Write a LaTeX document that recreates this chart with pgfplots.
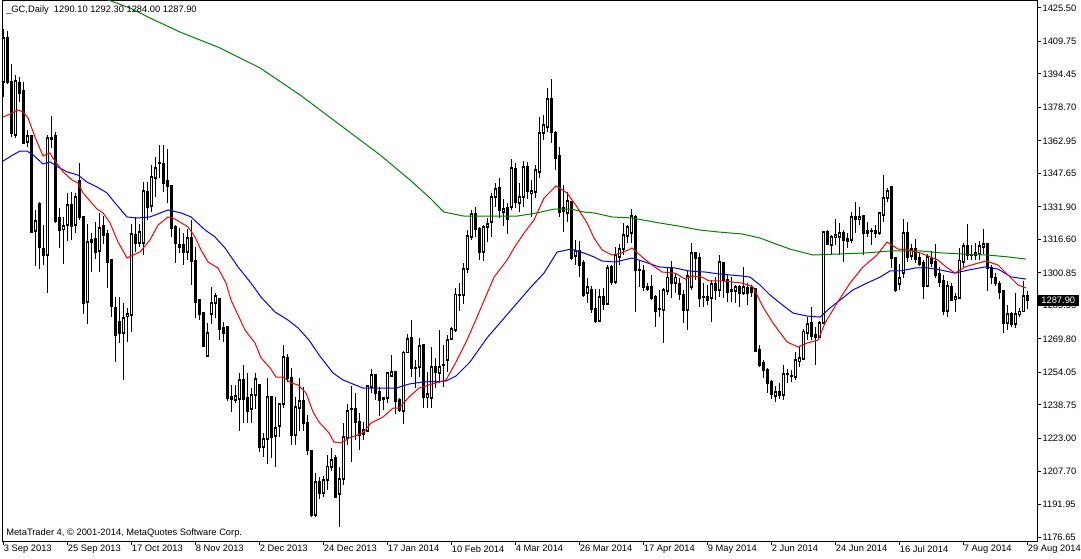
\documentclass[border=0pt]{standalone}
\usepackage{pgfplots}
\pgfplotsset{compat=1.18}
\usepackage{pgfplotstable}
\usepackage{fontspec}
\setmainfont{Liberation Sans}
\newcommand\mtfont{\fontsize{7pt}{8pt}\selectfont}
\pgfplotstableread{
i o h l c
0 1390.7 1415.6 1383.6 1411.4
1 1411.4 1414.7 1389.7 1390.7
2 1390.7 1399.2 1364.8 1366.7
3 1365.8 1394.0 1364.3 1391.2
4 1390.2 1393.0 1381.3 1385.5
5 1386.5 1390.7 1362.0 1362.0
6 1362.5 1368.1 1360.1 1365.3
7 1365.3 1365.8 1319.6 1320.1
8 1320.6 1330.5 1304.1 1325.3
9 1333.3 1334.2 1302.7 1313.1
10 1312.1 1323.4 1304.6 1309.3
11 1309.3 1365.8 1291.4 1364.3
12 1364.3 1374.7 1359.6 1363.9
13 1365.3 1367.2 1324.4 1325.3
14 1326.7 1331.4 1312.6 1321.1
15 1321.5 1327.2 1305.1 1322.9
16 1323.4 1338.5 1315.9 1332.8
17 1332.8 1339.0 1316.4 1322.9
18 1323.4 1338.5 1319.6 1336.6
19 1344.1 1352.6 1325.8 1327.2
20 1327.2 1327.6 1281.5 1286.7
21 1287.2 1323.9 1276.8 1315.4
22 1316.4 1319.6 1301.3 1315.4
23 1316.8 1324.8 1307.4 1310.7
24 1311.2 1329.0 1301.3 1322.0
25 1322.9 1327.6 1314.5 1318.7
26 1319.6 1321.1 1293.8 1306.0
27 1306.9 1307.4 1280.1 1285.3
28 1284.4 1289.5 1259.0 1271.7
29 1277.8 1289.5 1267.9 1272.6
30 1272.6 1286.7 1250.5 1279.7
31 1280.6 1284.4 1268.4 1281.5
32 1281.1 1323.9 1273.1 1319.2
33 1318.7 1327.2 1310.7 1314.9
34 1314.9 1323.9 1313.1 1320.1
35 1314.9 1343.6 1309.3 1339.4
36 1339.0 1343.6 1325.8 1331.9
37 1332.4 1351.6 1329.5 1346.0
38 1345.5 1355.4 1336.6 1350.2
39 1352.4 1361.0 1345.5 1352.8
40 1352.1 1361.0 1339.0 1343.2
41 1344.1 1359.2 1333.8 1341.8
42 1341.8 1342.2 1317.8 1322.0
43 1322.5 1323.4 1305.5 1314.9
44 1314.0 1322.0 1310.3 1313.1
45 1314.0 1319.6 1304.6 1310.7
46 1310.7 1321.5 1306.9 1317.3
47 1317.3 1325.8 1295.2 1306.5
48 1306.9 1313.1 1279.7 1287.2
49 1288.1 1288.6 1278.7 1281.5
50 1282.0 1282.5 1266.0 1266.5
51 1261.8 1277.3 1261.3 1272.6
52 1281.5 1294.3 1276.8 1286.7
53 1286.7 1291.4 1279.7 1290.0
54 1288.6 1289.1 1269.3 1274.5
55 1275.0 1277.8 1268.4 1272.6
56 1275.4 1275.9 1240.6 1242.0
57 1242.5 1248.2 1235.5 1241.6
58 1241.1 1248.2 1239.7 1243.0
59 1241.6 1253.8 1226.5 1250.5
60 1250.5 1257.6 1230.3 1241.6
61 1242.0 1253.8 1230.3 1235.9
62 1236.9 1246.7 1230.3 1243.5
63 1243.5 1253.8 1236.9 1251.0
64 1248.2 1248.6 1216.6 1219.0
65 1219.0 1225.6 1214.3 1222.8
66 1222.8 1251.4 1211.0 1242.5
67 1242.5 1243.0 1213.8 1223.7
68 1224.2 1242.5 1209.6 1227.9
69 1228.9 1239.7 1223.7 1239.2
70 1239.2 1267.0 1237.3 1261.3
71 1260.9 1262.7 1249.6 1251.4
72 1251.4 1256.2 1219.9 1224.6
73 1224.6 1242.5 1219.9 1237.8
74 1237.3 1251.4 1226.5 1240.6
75 1240.6 1247.2 1226.5 1230.3
76 1230.3 1234.0 1215.2 1217.6
77 1217.1 1217.6 1186.1 1187.0
78 1187.0 1206.8 1186.1 1202.5
79 1202.5 1204.9 1194.5 1197.4
80 1197.4 1205.4 1195.5 1203.5
81 1203.5 1215.2 1198.8 1210.0
82 1209.6 1218.5 1207.7 1212.9
83 1213.8 1215.2 1195.0 1195.5
84 1196.9 1209.6 1181.4 1203.9
85 1203.9 1230.3 1201.1 1223.7
86 1223.2 1239.2 1219.9 1235.9
87 1236.9 1247.7 1212.0 1236.7
88 1236.9 1244.4 1222.3 1230.7
89 1230.7 1235.0 1217.6 1224.6
90 1225.1 1230.7 1222.3 1227.0
91 1226.5 1248.2 1226.0 1247.7
92 1247.2 1255.7 1244.4 1252.8
93 1252.8 1253.3 1241.1 1244.4
94 1244.9 1247.2 1233.6 1241.1
95 1242.0 1242.5 1236.4 1241.6
96 1242.0 1254.3 1239.7 1253.8
97 1252.4 1262.3 1251.9 1254.3
98 1254.3 1254.8 1234.5 1240.6
99 1241.1 1242.0 1235.5 1236.4
100 1235.9 1264.1 1229.8 1263.6
101 1263.6 1272.1 1263.1 1269.8
102 1270.3 1278.7 1251.9 1256.2
103 1256.2 1259.9 1246.7 1256.0
104 1256.6 1270.3 1251.9 1266.5
105 1267.0 1267.5 1237.3 1242.5
106 1242.5 1254.3 1237.3 1243.9
107 1242.0 1266.0 1237.3 1256.6
108 1256.6 1260.9 1246.7 1254.3
109 1253.8 1274.0 1249.1 1256.6
110 1257.4 1267.0 1247.2 1257.8
111 1259.9 1271.7 1254.3 1269.3
112 1269.8 1275.4 1269.3 1274.5
113 1274.0 1293.8 1273.1 1290.9
114 1290.4 1296.1 1282.9 1290.6
115 1290.5 1305.5 1286.3 1302.7
116 1302.7 1321.1 1300.8 1318.2
117 1317.8 1330.5 1316.4 1328.6
118 1328.6 1331.9 1317.8 1321.5
119 1321.5 1322.5 1306.9 1310.7
120 1310.7 1323.4 1306.5 1322.5
121 1322.5 1326.7 1315.4 1323.9
122 1324.8 1338.5 1317.8 1336.6
123 1336.6 1343.2 1331.9 1340.4
124 1340.8 1345.5 1326.7 1330.5
125 1329.5 1335.6 1322.9 1331.0
126 1331.4 1333.8 1319.2 1326.2
127 1331.9 1354.5 1330.5 1350.2
128 1349.8 1352.6 1331.4 1334.2
129 1333.8 1343.2 1329.5 1336.6
130 1336.6 1353.5 1331.9 1350.7
131 1350.7 1353.1 1335.6 1339.4
132 1338.5 1344.6 1327.2 1339.4
133 1339.0 1351.6 1336.1 1349.3
134 1348.3 1374.2 1345.5 1366.7
135 1366.7 1375.2 1363.4 1370.5
136 1369.5 1387.8 1367.2 1382.7
137 1382.7 1392.1 1362.0 1367.2
138 1366.7 1367.6 1349.3 1354.9
139 1355.9 1360.1 1327.2 1329.5
140 1331.4 1342.2 1320.1 1330.0
141 1329.0 1339.0 1324.8 1334.7
142 1334.2 1334.7 1306.9 1307.9
143 1308.8 1316.4 1304.6 1311.2
144 1311.2 1315.9 1298.9 1304.6
145 1305.5 1306.9 1289.5 1290.5
146 1291.4 1298.5 1286.7 1294.3
147 1292.9 1294.7 1282.0 1283.9
148 1283.9 1293.3 1277.3 1278.3
149 1278.3 1293.3 1277.8 1289.5
150 1289.5 1293.8 1283.4 1286.3
151 1286.3 1304.6 1285.8 1303.2
152 1303.7 1304.6 1295.2 1296.6
153 1296.6 1313.1 1295.7 1309.3
154 1308.4 1314.5 1304.6 1312.1
155 1312.1 1324.4 1309.3 1318.7
156 1318.2 1323.4 1314.9 1322.5
157 1319.6 1331.0 1314.9 1327.6
158 1327.2 1328.1 1282.5 1302.2
159 1302.4 1306.9 1294.3 1302.0
160 1301.8 1304.6 1292.4 1294.3
161 1294.3 1296.1 1292.4 1293.3
162 1294.3 1299.9 1288.1 1289.1
163 1289.5 1290.5 1275.4 1282.9
164 1283.9 1292.9 1280.1 1283.7
165 1283.4 1293.8 1267.9 1292.9
166 1292.4 1303.7 1290.5 1298.9
167 1303.2 1306.5 1289.1 1296.1
168 1296.1 1300.8 1291.4 1298.9
169 1295.7 1298.5 1288.1 1290.9
170 1290.9 1292.9 1277.3 1283.4
171 1283.4 1302.2 1274.0 1299.4
172 1294.3 1314.9 1292.9 1310.3
173 1310.3 1310.7 1297.5 1307.9
174 1307.9 1310.3 1284.8 1289.1
175 1289.5 1296.1 1284.8 1289.7
176 1289.5 1295.2 1285.8 1288.1
177 1289.1 1297.5 1277.8 1295.7
178 1295.7 1298.9 1288.1 1292.9
179 1292.9 1309.3 1289.5 1306.0
180 1305.5 1306.0 1289.1 1297.5
181 1297.5 1299.9 1287.2 1291.9
182 1292.9 1298.9 1287.2 1292.4
183 1292.4 1295.2 1286.7 1294.3
184 1294.3 1295.2 1284.8 1291.4
185 1291.4 1303.7 1290.5 1294.3
186 1293.8 1296.1 1285.8 1291.4
187 1293.8 1295.2 1289.5 1291.9
188 1293.3 1293.8 1263.7 1264.1
189 1264.6 1267.0 1256.6 1257.6
190 1258.5 1259.9 1251.4 1255.2
191 1255.2 1256.2 1244.4 1249.1
192 1249.6 1250.5 1241.6 1243.9
193 1243.0 1247.7 1240.2 1244.9
194 1244.9 1249.1 1241.6 1243.5
195 1243.5 1257.6 1241.1 1253.3
196 1253.1 1255.7 1249.1 1253.5
197 1252.6 1255.2 1249.6 1252.2
198 1251.9 1263.7 1250.5 1259.9
199 1259.4 1266.0 1256.6 1260.9
200 1260.4 1274.5 1259.9 1273.5
201 1272.6 1280.1 1269.3 1276.8
202 1277.3 1284.8 1269.3 1271.2
203 1271.7 1275.4 1257.6 1270.7
204 1270.7 1278.3 1270.3 1277.3
205 1277.3 1320.6 1276.8 1320.1
206 1320.1 1321.1 1314.0 1314.5
207 1314.0 1318.7 1309.8 1317.8
208 1317.8 1326.2 1314.0 1318.7
209 1317.8 1324.4 1309.3 1319.6
210 1319.6 1321.1 1306.0 1316.4
211 1316.8 1319.6 1312.6 1315.9
212 1316.4 1329.5 1314.9 1327.2
213 1327.2 1334.2 1319.6 1326.2
214 1326.2 1331.9 1323.4 1327.2
215 1327.6 1328.1 1309.3 1319.6
216 1320.6 1324.8 1317.8 1319.6
217 1320.4 1322.0 1314.0 1320.8
218 1320.6 1323.4 1317.3 1319.6
219 1319.6 1329.5 1318.7 1329.0
220 1328.1 1346.9 1324.8 1336.1
221 1336.1 1340.8 1334.2 1339.4
222 1341.3 1341.8 1303.2 1307.9
223 1307.9 1308.4 1291.9 1292.9
224 1295.7 1305.1 1292.9 1298.5
225 1300.8 1326.2 1298.5 1319.6
226 1319.6 1324.8 1306.0 1308.4
227 1308.8 1314.5 1306.9 1312.1
228 1312.1 1316.8 1305.5 1307.4
229 1307.9 1310.7 1304.1 1305.1
230 1305.5 1306.9 1288.6 1294.7
231 1294.7 1309.8 1294.3 1308.4
232 1307.4 1311.2 1303.7 1305.5
233 1306.0 1314.5 1298.5 1299.9
234 1300.4 1303.7 1294.3 1296.6
235 1297.1 1299.9 1281.1 1283.0
236 1283.0 1297.1 1280.1 1294.7
237 1294.3 1296.1 1287.6 1288.1
238 1288.6 1291.4 1282.5 1289.5
239 1289.1 1312.6 1288.6 1306.9
240 1306.0 1314.9 1303.7 1313.5
241 1313.5 1323.9 1306.9 1309.3
242 1309.1 1314.0 1306.9 1309.5
243 1309.3 1314.9 1306.9 1310.3
244 1309.8 1315.9 1306.9 1313.5
245 1313.1 1321.5 1309.8 1314.5
246 1314.5 1314.9 1292.4 1303.2
247 1303.2 1304.6 1295.7 1298.9
248 1298.9 1300.8 1294.7 1296.1
249 1295.7 1297.1 1288.6 1291.9
250 1292.4 1292.9 1272.6 1277.3
251 1277.3 1285.8 1274.0 1281.5
252 1281.5 1282.5 1275.4 1276.8
253 1276.8 1291.4 1274.9 1281.5
254 1281.5 1284.4 1280.1 1282.9
255 1282.9 1297.1 1282.5 1290.0
256 1290.1 1292.3 1284.0 1287.9
}\candles
\begin{document}
\begin{tikzpicture}
\useasboundingbox (0,0) rectangle (810.75pt,-418.5pt);
\begin{axis}[
  at={(1.5pt,-0.375pt)}, anchor=north west,
  scale only axis, width=776.25pt, height=405.375pt,
  xmin=-0.25, xmax=258.5, ymin=1174.77, ymax=1429.02,
  axis line style={black, line width=0.75pt},
  tick align=outside, major tick length=3pt,
  tick style={black, line width=0.75pt},
  xtick pos=left, ytick pos=right, yticklabel pos=right,
  xtick={0,16,32,48,64,80,96,112,128,144,160,176,192,208,224,240,256},
  xticklabels={3 Sep 2013,25 Sep 2013,17 Oct 2013,8 Nov 2013,2 Dec 2013,24 Dec 2013,17 Jan 2014,10 Feb 2014,4 Mar 2014,26 Mar 2014,17 Apr 2014,9 May 2014,2 Jun 2014,24 Jun 2014,16 Jul 2014,7 Aug 2014,29 Aug 2014},
  ytick={1425.50,1409.75,1394.45,1378.70,1362.95,1347.65,1331.90,1316.60,1300.85,1285.55,1269.80,1254.05,1238.75,1223.00,1207.70,1191.95,1176.65},
  yticklabels={1425.50,1409.75,1394.45,1378.70,1362.95,1347.65,1331.90,1316.60,1300.85,1285.55,1269.80,1254.05,1238.75,1223.00,1207.70,1191.95,1176.65},
  xticklabel style={font=\mtfont, anchor=north west, inner sep=0pt, xshift=0.5pt},
  yticklabel style={font=\mtfont, anchor=west, inner sep=0pt, xshift=1pt},
  candle/.style={draw=none, mark=none, forget plot,
    error bars/.cd, y dir=both, y explicit, error mark=none},
]
% wicks
\addplot[candle, error bar style={draw=black, solid, line width=0.75pt}]
  table[x=i, y expr={(\thisrow{h}+\thisrow{l})/2}, y error expr={(\thisrow{h}-\thisrow{l})/2}] {\candles};
% bodies (black outline / fill)
\addplot[candle, error bar style={draw=black, solid, line width=2.25pt}]
  table[x=i, y expr={(\thisrow{o}+\thisrow{c})/2}, y error expr={abs(\thisrow{c}-\thisrow{o})/2+0.3}] {\candles};
% bull bodies interior
\addplot[candle, error bar style={draw=white, solid, line width=0.75pt}]
  table[x=i, y expr={(\thisrow{o}+\thisrow{c})/2}, y error expr={(\thisrow{c}>\thisrow{o})*max(abs(\thisrow{c}-\thisrow{o})/2-0.3,0)}] {\candles};
% moving averages
\addplot[color={rgb,255:red,0;green,128;blue,0}, line width=0.75pt, mark=none] coordinates {
(22,1432)(26.25,1429.3)(31.75,1425.5)(36.75,1420.8)(44.25,1414.2)(54.25,1406.7)(64.25,1397.3)(74.25,1384.6)(84.25,1370.5)(94.25,1356.4)(101.75,1344.6)(106.75,1336.1)(110.25,1329.5)(115.25,1327.6)(122.75,1327.6)(128.5,1327.6)(133.5,1329.1)(137.75,1330.9)(142,1330.9)(145.25,1329.5)(147.75,1329.1)(152.25,1327.2)(157.25,1326.7)(164,1324.4)(169,1322.9)(174,1321.1)(179,1320.1)(184.75,1319.2)(189.25,1317.3)(192.5,1315.0)(196.75,1312.1)(202.5,1309.3)(209.25,1309.8)(216,1310.3)(221.75,1311.2)(229.5,1311.2)(234.5,1310.3)(239.5,1309.8)(246.25,1309.3)(251.25,1308.4)(255.75,1307.4)};
\addplot[color=blue, line width=0.75pt, mark=none] coordinates {
(0,1353.5)(2.5,1356.4)(4.25,1358.2)(6,1358.2)(7.5,1356.4)(10,1352.1)(11.75,1353.1)(13.75,1350.7)(16,1348.4)(18.75,1346.9)(21,1343.6)(23.5,1341.3)(26,1338.5)(28,1333.8)(31,1327.2)(33.5,1326.7)(36.75,1327.2)(41.25,1330.5)(44.5,1329.1)(47,1327.2)(50.5,1321.1)(53,1317.8)(55.5,1312.6)(58.75,1303.7)(62,1296.1)(64.5,1289.5)(68,1282.5)(71.25,1278.7)(73.75,1275.0)(76.5,1269.3)(79,1262.3)(82.5,1253.8)(85,1250.5)(90,1246.7)(93.25,1246.7)(98.25,1246.7)(101.5,1248.6)(105,1249.6)(110.75,1250.0)(113.25,1252.4)(116.75,1259.0)(121,1270.3)(127,1283.4)(132,1294.3)(135.25,1300.8)(138.5,1310.7)(142,1312.1)(145.25,1310.2)(147.75,1308.4)(149.75,1306.5)(153,1306.0)(157.25,1307.9)(160.5,1306.0)(164,1303.7)(168,1303.2)(171.5,1301.8)(175.5,1301.3)(179,1300.4)(184.75,1299.4)(186.75,1298.9)(189.25,1295.2)(191.75,1290.5)(194.25,1286.7)(197.5,1282.0)(201,1280.6)(204.25,1280.1)(206.75,1284.4)(209.25,1288.1)(212.5,1292.9)(216,1296.1)(219.25,1298.9)(221.75,1301.8)(224.5,1301.8)(228,1303.2)(231.25,1303.2)(234.5,1302.2)(238,1300.8)(241.25,1302.2)(245.5,1303.7)(248.75,1302.7)(252,1299.0)(255.75,1298.0)};
\addplot[color=red, line width=0.75pt, mark=none] coordinates {
(0,1374.2)(1.75,1375.6)(3.75,1377.5)(5,1376.6)(6.25,1373.8)(8,1364.8)(10,1355.9)(11.75,1357.3)(12.5,1354.9)(15,1348.4)(17.25,1344.6)(18.75,1343.2)(20,1338.5)(23.5,1330.9)(25,1329.1)(26.75,1324.4)(28.75,1315.4)(31,1307.9)(32.5,1309.3)(34.25,1310.7)(36.75,1316.4)(38.75,1323.4)(41.25,1327.2)(43,1326.2)(46.25,1322.5)(48,1317.8)(49.5,1311.7)(51.25,1306.0)(53.75,1303.2)(55.75,1296.1)(57,1288.1)(60.5,1274.0)(63,1267.9)(64.5,1260.9)(66.75,1256.2)(68.25,1251.9)(70,1251.9)(72,1249.1)(73.75,1248.2)(75.75,1244.4)(77.5,1235.5)(79,1230.7)(81.5,1225.6)(82.75,1221.3)(84.5,1220.9)(86.5,1223.2)(90,1225.6)(92,1230.3)(95,1233.1)(97.5,1237.3)(99,1237.3)(101.5,1242.5)(104,1246.7)(106.5,1248.2)(110.75,1250.5)(113.25,1259.0)(116,1269.3)(118.5,1280.1)(122.75,1298.9)(126,1306.9)(127.75,1312.6)(130.25,1319.6)(132.75,1325.8)(135.25,1336.1)(138.25,1341.8)(141,1338.5)(143.5,1331.9)(146,1324.4)(147.75,1317.3)(149.75,1311.7)(152.25,1309.3)(154.75,1310.3)(157.25,1312.6)(159.75,1308.4)(162.25,1304.6)(164.75,1301.3)(168,1300.8)(170.5,1298.0)(172.25,1299.4)(174.75,1298.9)(176.5,1297.1)(179.75,1297.1)(182.25,1296.6)(184.75,1296.1)(187.5,1294.3)(190,1284.8)(192.5,1277.3)(196,1268.4)(198.75,1266.0)(201,1267.9)(203.75,1269.3)(205.5,1277.3)(208.5,1286.7)(211.75,1296.1)(215,1303.7)(218.5,1309.3)(221,1315.4)(223.75,1312.1)(226.25,1311.7)(229.5,1310.2)(233.75,1306.9)(235.75,1303.7)(238,1300.8)(240.5,1303.7)(243.75,1305.5)(245.75,1306.5)(248.75,1304.6)(251.25,1299.9)(253.75,1295.2)(255.75,1293.8)};
\coordinate (cp) at (axis cs:258.5,1287.9);
\end{axis}
\node[anchor=west, font=\mtfont, inner sep=0pt] at (4.5pt,-7.5pt) {\_GC,Daily\ \ 1290.10 1292.30 1284.00 1287.90};
\node[anchor=west, font=\mtfont, inner sep=0pt] at (4.5pt,-399.75pt) {MetaTrader 4, \textcopyright\ 2001-2014, MetaQuotes Software Corp.};
\node[fill=black, text=white, anchor=west, font=\mtfont, inner sep=0pt, minimum width=31.5pt, minimum height=8pt] at (cp) {1287.90};
\end{tikzpicture}
\end{document}
